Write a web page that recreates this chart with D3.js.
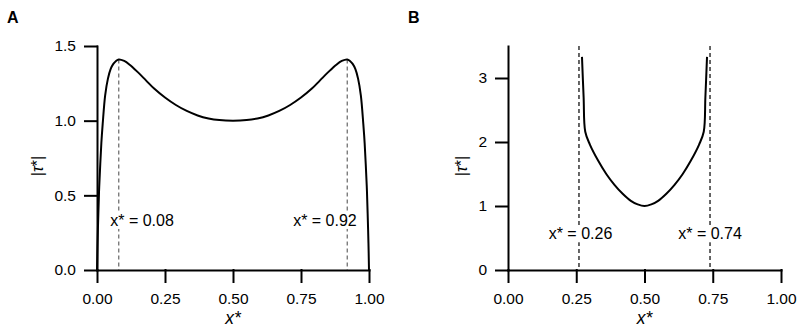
<!DOCTYPE html>
<html>
<head>
<meta charset="utf-8">
<script src="https://cdn.jsdelivr.net/npm/d3@7"></script>
<style>
  body { margin: 0; background: #fff; }
  svg { font-family: "Liberation Sans", Arial, sans-serif; }
</style>
</head>
<body>
<div class="container"></div>
<script>
// shared ticks
var xTicks = [0, 0.25, 0.5, 0.75, 1];
var yTicksA = [0, 0.5, 1.0, 1.5];
var yTicksB = [0, 1, 2, 3];

// panel A curve
var xA = [0, 0.002, 0.005, 0.008, 0.012, 0.016, 0.021, 0.03, 0.04, 0.05, 0.06, 0.07, 0.08,
          0.10, 0.12, 0.15, 0.18, 0.21, 0.25, 0.29, 0.33, 0.37, 0.41, 0.45, 0.50,
          0.55, 0.59, 0.63, 0.67, 0.71, 0.75, 0.79, 0.82, 0.85, 0.88, 0.90,
          0.92, 0.93, 0.94, 0.95, 0.96, 0.97, 0.979, 0.984, 0.988, 0.992, 0.995, 0.998, 1.0];
var tauA = [0, 0.18, 0.38, 0.55, 0.71, 0.85, 0.98, 1.17, 1.28, 1.345, 1.38, 1.40, 1.41,
            1.40, 1.375, 1.325, 1.27, 1.215, 1.155, 1.105, 1.065, 1.035, 1.015, 1.004, 1.00,
            1.004, 1.015, 1.035, 1.065, 1.105, 1.155, 1.215, 1.27, 1.325, 1.375, 1.40,
            1.41, 1.40, 1.38, 1.345, 1.28, 1.17, 0.98, 0.85, 0.71, 0.55, 0.38, 0.18, 0];
var markA = [0.08, 0.92];

// panel B curve
var xB = [0.271, 0.277, 0.283, 0.30, 0.33, 0.36, 0.39, 0.42, 0.45, 0.475, 0.50,
          0.525, 0.55, 0.58, 0.61, 0.64, 0.67, 0.70, 0.717, 0.723, 0.729];
var tauB = [3.33, 2.70, 2.16, 1.96, 1.71, 1.50, 1.33, 1.19, 1.08, 1.025, 1.00,
            1.025, 1.08, 1.19, 1.33, 1.50, 1.71, 1.96, 2.16, 2.70, 3.33];
var markB = [0.26, 0.74];

var HEIGHT = 331;
var WIDTH = 800;

var translate = function (x, y) {
  return 'translate(' + x + ',' + y + ')';
};

var drawPanel = function (svg, p) {
  var xScale = d3.scaleLinear().domain([0, 1]).range([p.left, p.right]);
  var yScale = d3.scaleLinear().domain([0, p.yMax]).range([270, 46]);

  var g = svg.append('g');

  // panel letter
  g.append('text')
    .attr('x', p.letterX).attr('y', 23)
    .style('font-weight', 'bold').style('font-size', '16px')
    .text(p.letter);

  // dashed markers
  g.selectAll('.mark').data(p.marks).enter()
    .append('line')
    .attr('x1', function (d) { return xScale(d); })
    .attr('x2', function (d) { return xScale(d); })
    .attr('y1', function (d, i) { return yScale(p.markTop[i]); })
    .attr('y2', yScale(0))
    .attr('stroke', p.markColor)
    .attr('stroke-width', 1.2)
    .attr('stroke-dasharray', '4,3');

  // labels with white boxes
  p.marks.forEach(function (m, i) {
    var lbl = g.append('g');
    var t = lbl.append('text')
      .attr('x', xScale(m) + p.labelDx[i])
      .attr('y', yScale(p.labelY))
      .attr('text-anchor', p.labelAnchor[i])
      .style('font-size', '16px')
      .text('x* = ' + d3.format('.2f')(m));
    var bb = t.node().getBBox();
    lbl.insert('rect', 'text')
      .attr('x', bb.x - 1).attr('y', bb.y)
      .attr('width', bb.width + 2).attr('height', bb.height)
      .attr('fill', '#fff');
  });

  // curve
  var pts = p.xs.map(function (x, i) { return [x, p.ys[i]]; });
  var line = d3.line()
    .x(function (d) { return xScale(d[0]); })
    .y(function (d) { return yScale(d[1]); })
    .curve(d3.curveCatmullRom.alpha(0.5));
  g.append('path')
    .datum(pts)
    .attr('d', line)
    .attr('fill', 'none')
    .attr('stroke', '#000')
    .attr('stroke-width', 2)
    .attr('stroke-linejoin', 'round');

  // axes
  var xAxis = d3.axisBottom(xScale).tickValues(xTicks)
    .tickFormat(d3.format('.2f')).tickSize(12).tickSizeOuter(0).tickPadding(11);
  var yAxis = d3.axisLeft(yScale).tickValues(p.yTicks)
    .tickFormat(d3.format(p.yFormat)).tickSize(12).tickSizeOuter(0).tickPadding(9);

  var gx = g.append('g').attr('transform', translate(0, 270)).call(xAxis);
  var gy = g.append('g').attr('transform', translate(p.left, 0)).call(yAxis);

  [gx, gy].forEach(function (a) {
    a.attr('font-family', null).attr('font-size', null);
    a.selectAll('path, line').attr('stroke', '#000').attr('stroke-width', 2)
      .attr('stroke-linecap', 'square');
    a.selectAll('text').style('font-size', '15.5px').attr('fill', '#000');
  });

  // axis titles
  g.append('text')
    .attr('x', (p.left + p.right) / 2).attr('y', 324)
    .attr('text-anchor', 'middle')
    .style('font-size', '17.5px').style('font-style', 'italic')
    .text('x*');

  var yt = g.append('text')
    .attr('transform', translate(p.yTitleX, 166) + ' rotate(-90)')
    .attr('text-anchor', 'middle')
    .attr('dy', '0.35em')
    .style('font-size', '16px');
  yt.append('tspan').text('|');
  yt.append('tspan').style('font-style', 'italic').text('τ');
  yt.append('tspan').text('*|');
};

var loadChart = function () {
  var svg = d3.select('.container').append('svg')
    .attr('width', WIDTH)
    .attr('height', HEIGHT);

  drawPanel(svg, {
    letter: 'A', letterX: 7,
    left: 97, right: 369, yMax: 1.5,
    yTicks: yTicksA, yFormat: '.1f', yTitleX: 37,
    xs: xA, ys: tauA,
    marks: markA, markTop: [1.41, 1.41], markColor: '#666',
    labelDx: [-8.5, 9.5], labelAnchor: ['start', 'end'], labelY: 0.295
  });

  drawPanel(svg, {
    letter: 'B', letterX: 408,
    left: 508, right: 781, yMax: 3.5,
    yTicks: yTicksB, yFormat: 'd', yTitleX: 461,
    xs: xB, ys: tauB,
    marks: markB, markTop: [3.5, 3.5], markColor: '#000',
    labelDx: [1.5, 0], labelAnchor: ['middle', 'middle'], labelY: 0.48
  });
};

window.onload = loadChart;
</script>
</body>
</html>
